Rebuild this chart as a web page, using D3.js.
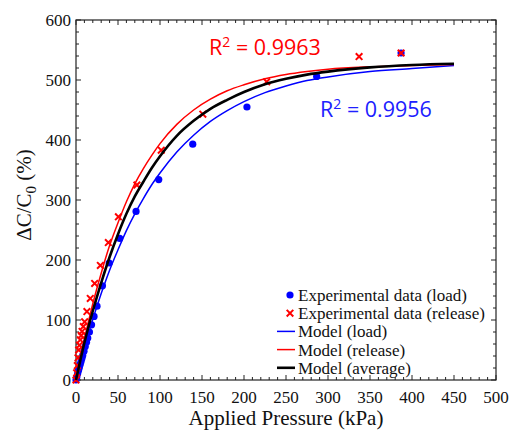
<!DOCTYPE html>
<html>
<head>
<meta charset="utf-8">
<script src="https://cdn.jsdelivr.net/npm/d3@7"></script>
<style>
body { margin: 0; background: #fff; }
</style>
</head>
<body>
<script>
const loadP = [0, 1, 2, 3, 4, 5, 6, 7, 8, 9.5, 11, 12.5, 14, 16, 18.5, 21.5, 25, 31.5, 39.5, 52, 71.5, 98.5, 139, 203.5, 286.5, 387];
const loadC = [0, 5, 11, 16, 21, 26, 31, 36, 41, 48, 56, 63, 70, 80, 92, 106, 123, 157, 195, 236, 281, 334, 393, 455, 506, 545];
const releaseP = [0, 0.8, 1.6, 2.4, 3.2, 4.2, 5.2, 6.2, 7.2, 8.7, 10.3, 13, 17, 22.2, 29, 38.5, 50.5, 72.5, 101.5, 151, 227, 337, 387];
const releaseC = [0, 12, 24, 37, 50, 58, 67, 74, 81, 89, 97, 114, 136, 161, 191, 229, 272, 325, 383, 443, 497, 539, 545];

// model curves
const modelP = [0, 10, 20, 30, 40, 50, 60, 70, 80, 90, 100, 120, 140, 160, 180, 200, 225, 250, 275, 300, 350, 400, 450];
const modelLoad = [0, 53, 101, 144, 183, 217, 249, 277, 302, 325, 345, 380, 408, 431, 449, 464, 479, 490, 499, 505, 514, 519, 524];
const modelRelease = [0, 68, 127, 178, 224, 262, 297, 327, 352, 374, 394, 426, 450, 468, 482, 492, 502, 509, 514, 518, 522, 524, 526];
const modelAverage = [0, 62, 115, 162, 205, 243, 277, 306, 330, 353, 373, 407, 432, 452, 467, 480, 493, 502, 509, 514, 521, 525, 527];

const xTicks = [0, 50, 100, 150, 200, 250, 300, 350, 400, 450, 500];
const yTicks = [0, 100, 200, 300, 400, 500, 600];
const legendLabels = ["Experimental data (load)", "Experimental data (release)", "Model (load)", "Model (release)", "Model (average)"];

const margin = {top: 20, right: 14, bottom: 50, left: 76},
    width = 510 - margin.left - margin.right,
    height = 430 - margin.top - margin.bottom;

const svg = d3.select("body")
  .append("svg")
    .attr("width", 510)
    .attr("height", 430)
  .append("g")
    .attr("transform", `translate(${margin.left},${margin.top})`);

const x = d3.scaleLinear().domain([0, 500]).range([0, width]);
const y = d3.scaleLinear().domain([0, 600]).range([height, 0]);

const serif = "Liberation Serif";
const axisColor = "#222";

// frame
svg.append("rect")
  .attr("width", width).attr("height", height)
  .attr("fill", "none").attr("stroke", axisColor).attr("stroke-width", 1.2);

// ticks on all four sides, pointing inward
const xMinor = d3.range(0, 501, 10);
const yMinor = d3.range(0, 601, 20);
const ticksG = svg.append("g").attr("stroke", axisColor).attr("stroke-width", 1);
xMinor.forEach(v => {
  const len = v % 50 === 0 ? 5 : 3;
  ticksG.append("line").attr("x1", x(v)).attr("x2", x(v)).attr("y1", height).attr("y2", height - len);
  ticksG.append("line").attr("x1", x(v)).attr("x2", x(v)).attr("y1", 0).attr("y2", len);
});
yMinor.forEach(v => {
  const len = v % 100 === 0 ? 5 : 3;
  ticksG.append("line").attr("y1", y(v)).attr("y2", y(v)).attr("x1", 0).attr("x2", len);
  ticksG.append("line").attr("y1", y(v)).attr("y2", y(v)).attr("x1", width).attr("x2", width - len);
});

// tick labels
svg.append("g").selectAll("text")
  .data(xTicks).join("text")
    .attr("x", d => x(d)).attr("y", height + 23)
    .attr("text-anchor", "middle")
    .attr("font-family", serif).attr("font-size", 17).attr("fill", "#111")
    .text(d => d);
svg.append("g").selectAll("text")
  .data(yTicks).join("text")
    .attr("x", -5).attr("y", d => y(d)).attr("dy", "0.35em")
    .attr("text-anchor", "end")
    .attr("font-family", serif).attr("font-size", 17).attr("fill", "#111")
    .text(d => d);

// axis titles
svg.append("text")
  .attr("x", width / 2).attr("y", height + 45)
  .attr("text-anchor", "middle")
  .attr("font-family", serif).attr("font-size", 21).attr("fill", "#111")
  .text("Applied Pressure (kPa)");

const yTitle = svg.append("text")
  .attr("transform", `translate(-45,${height / 2 - 5}) rotate(-90)`)
  .attr("text-anchor", "middle")
  .attr("font-family", serif).attr("font-size", 21).attr("fill", "#111");
yTitle.append("tspan").text("\u0394C/C");
yTitle.append("tspan").attr("dy", 5).attr("font-size", 15).text("0");
yTitle.append("tspan").attr("dy", -5).text(" (%)");

// experimental points
const loadData = loadP.map((p, i) => ({p: p, c: loadC[i]}));
const releaseData = releaseP.map((p, i) => ({p: p, c: releaseC[i]}));

svg.append("g").selectAll("circle")
  .data(loadData).join("circle")
    .attr("cx", d => x(d.p)).attr("cy", d => y(d.c))
    .attr("r", 3.6).attr("fill", "#0000ff");

const cross = "M-3.3,-3.3L3.3,3.3M-3.3,3.3L3.3,-3.3";
svg.append("g").selectAll("path")
  .data(releaseData).join("path")
    .attr("d", cross)
    .attr("transform", d => `translate(${x(d.p)},${y(d.c)})`)
    .attr("stroke", "#ff0000").attr("stroke-width", 2).attr("fill", "none");

// model curves
const line = d3.line()
  .x(d => x(d[0])).y(d => y(d[1]))
  .curve(d3.curveMonotoneX);
[[modelLoad, "#0000ff", 1.5], [modelRelease, "#ff0000", 1.5], [modelAverage, "#000", 2.6]].forEach(([vals, col, w]) => {
  svg.append("path")
    .datum(modelP.map((p, i) => [p, vals[i]]))
    .attr("d", line)
    .attr("fill", "none").attr("stroke", col).attr("stroke-width", w);
});

// R squared labels
function r2(xp, yp, col, val) {
  const t = svg.append("text")
    .attr("x", xp).attr("y", yp)
    .attr("font-family", "Open Sans").attr("font-size", 21.5).attr("fill", col);
  t.append("tspan").text("R");
  t.append("tspan").attr("dy", -8).attr("font-size", 14).text("2");
  t.append("tspan").attr("dy", 8).text(" = " + val);
}
r2(133, 35, "#ff0000", "0.9963");
r2(244, 97, "#2020ff", "0.9956");

// legend
const legend = svg.append("g").attr("transform", `translate(${200},${275})`);
const rowH = 18.2;
legendLabels.forEach((lab, i) => {
  const g = legend.append("g").attr("transform", `translate(0,${i * rowH})`);
  if (i === 0) {
    g.append("circle").attr("cx", 14).attr("cy", 0).attr("r", 3.6).attr("fill", "#0000ff");
  } else if (i === 1) {
    g.append("path").attr("d", cross).attr("transform", "translate(14,0)")
      .attr("stroke", "#ff0000").attr("stroke-width", 2);
  } else {
    const col = ["#0000ff", "#ff0000", "#000"][i - 2];
    g.append("line").attr("x1", 1).attr("x2", 19).attr("y1", 0).attr("y2", 0)
      .attr("stroke", col).attr("stroke-width", i === 4 ? 2.6 : 1.5);
  }
  g.append("text")
    .attr("x", 22).attr("y", 0).attr("dy", "0.35em")
    .attr("font-family", serif).attr("font-size", 17).attr("fill", "#111")
    .text(lab);
});
</script>
</body>
</html>
